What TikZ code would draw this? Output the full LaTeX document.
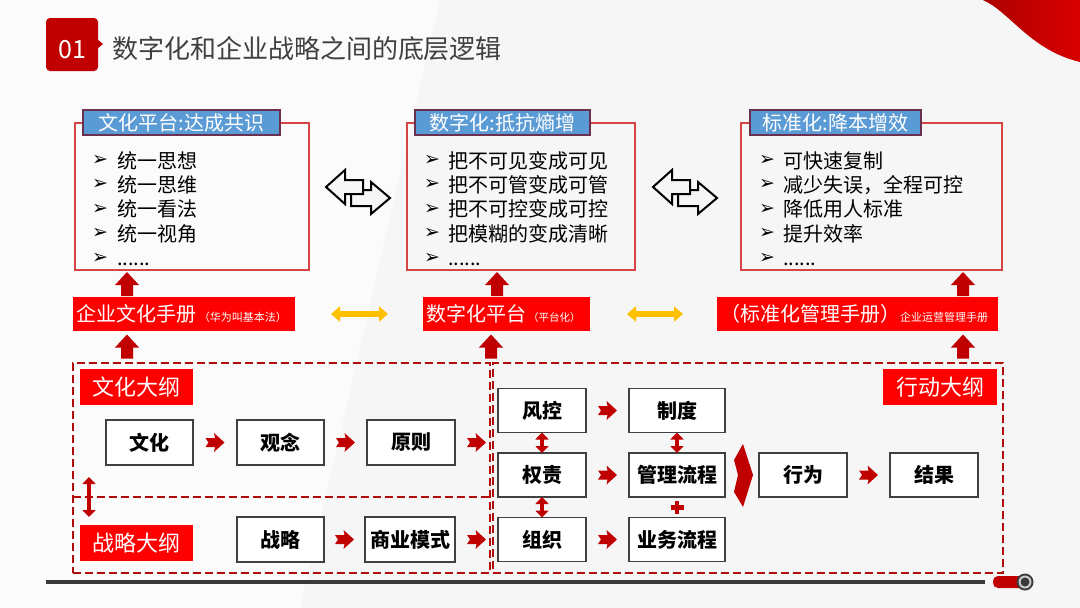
\documentclass[tikz,border=0pt]{standalone}
\usepackage{fontspec}
\setmainfont{Noto Sans CJK SC}
\newfontfamily\dv{DejaVu Sans}
\usetikzlibrary{arrows.meta,calc}
\definecolor{hdred}{HTML}{C00000}
\definecolor{lblred}{HTML}{FF0000}
\definecolor{arrred}{HTML}{C00000}
\definecolor{boxred}{HTML}{D64545}
\definecolor{tblue}{HTML}{5B9BD5}
\definecolor{tborder}{HTML}{6B3050}
\definecolor{dashred}{HTML}{B00C0C}
\definecolor{txtgray}{HTML}{404040}
\definecolor{ylw}{HTML}{FFC000}
\definecolor{bg}{HTML}{F6F6F7}
\definecolor{linegray}{HTML}{3A3A3A}
\newcommand\sixdots{......}
\begin{document}
\begin{tikzpicture}[x=1pt,y=-1pt,
  every node/.style={inner sep=0pt, outer sep=0pt},
  topbox/.style={draw=boxred, line width=1.3pt, rectangle, minimum height=147pt},
  ttl/.style={draw=tborder, line width=1.2pt, fill=tblue, text=white, font=\fontsize{20}{20}\selectfont, minimum height=25pt},
  bul/.style={anchor=west, font=\dv\fontsize{19}{19}\selectfont, text=black},
  btxt/.style={anchor=west, font=\fontsize{20}{20}\selectfont, text=black, text height=17.6pt, text depth=2.4pt},
  redlbl/.style={fill=lblred, text=white, font=\fontsize{20}{20}\selectfont, minimum height=34pt, inner xsep=3pt, align=left, text height=17.6pt, text depth=2.4pt},
  secl/.style={fill=lblred, text=white, font=\fontsize{22}{22}\selectfont, minimum height=36pt, minimum width=113pt},
  wbox/.style={draw=txtgray, line width=1.3pt, fill=white, font=\bfseries\fontsize{20}{20}\selectfont, minimum height=45pt},
  dbox/.style={draw=dashred, line width=2.8pt, dash pattern=on 8pt off 4pt},
  vdbl/.style={draw=arrred, line width=4.5pt, {Triangle[width=13pt,length=7pt]}-{Triangle[width=13pt,length=7pt]}},
  ydbl/.style={draw=ylw, line width=6pt, {Triangle[width=15pt,length=9pt]}-{Triangle[width=15pt,length=9pt]}},
  smarr/.pic={\fill[arrred] (-9.5,-4.5) -- (0,-4.5) -- (-1,-9.5) -- (9.5,0) -- (-1,9.5) -- (0,4.5) -- (-9.5,4.5) -- (-6.5,0) -- cycle;},
  uparr/.pic={\fill[arrred] (0,-12) -- (12,1) -- (6,1) -- (6,12) -- (-6,12) -- (-6,1) -- (-12,1) -- cycle;},
  chev/.pic={\fill[arrred] (0,-31) -- (10,0) -- (0,32) -- (-9,17) -- (-5,0) -- (-9,-15) -- cycle;},
  plus/.pic={\draw[arrred, line width=4.5pt] (-6.5,0) -- (6.5,0) (0,-6.5) -- (0,6.5);},
  hollow/.pic={
    \filldraw[fill=bg, draw=black, line width=2pt, line join=miter]
      (-7,-2) -- (13,-2) -- (13,-10) -- (32,6) -- (13,22) -- (13,14) -- (-7,14) -- cycle;
    \filldraw[fill=bg, draw=black, line width=2pt, line join=miter]
      (-32,-5) -- (-13,-22) -- (-13,-12) -- (5,-12) -- (5,2) -- (-13,2) -- (-13,12) -- cycle;}
]
\useasboundingbox (0,0) rectangle (1080,608);
\fill[bg] (0,0) rectangle (1080,608);
\fill[white, opacity=0.6] (0,0) -- (440,0) -- (300,608) -- (0,608) -- cycle;

% swoosh
\shade[left color=hdred!90!black, right color=red!85!black] (983,0) .. controls (1010,12) and (1030,50) .. (1080,62) -- (1080,0) -- cycle;

% header
\fill[hdred, rounded corners=4pt] (46,18) rectangle (98,71);
\fill[hdred] (97,39) -- (103,44) -- (97,49) -- cycle;
\node[text=white, font=\fontsize{25}{25}\selectfont] (num) at (72,49.5) {01};
\node[anchor=west, text=txtgray, font=\fontsize{26}{26}\selectfont] (title) at (112,49) {数字化和企业战略之间的底层逻辑};

% top boxes
\node[topbox, minimum width=234pt] (box1) at (192,196.5) {};
\node[topbox, minimum width=228pt] (box2) at (521,196.5) {};
\node[topbox, minimum width=261pt] (box3) at (871.5,196.5) {};
\node[ttl, minimum width=197pt] (t1) at (181.5,122.5) {文化平台:达成共识};
\node[ttl, minimum width=175pt] (t2) at (502.5,122.5) {数字化:抵抗熵增};
\node[ttl, minimum width=171pt] (t3) at (835.5,122.5) {标准化:降本增效};

\foreach \t [count=\i] in {统一思想,统一思维,统一看法,统一视角,\sixdots}{
  \node[bul] (a\i b) at (92,{136+24.4*\i}) {➢};
  \node[btxt] (a\i t) at (117,{136+24.4*\i}) {\t};
}
\foreach \t [count=\i] in {把不可见变成可见,把不可管变成可管,把不可控变成可控,把模糊的变成清晰,\sixdots}{
  \node[bul] (c\i b) at (424,{136+24.4*\i}) {➢};
  \node[btxt] (c\i t) at (448,{136+24.4*\i}) {\t};
}
\foreach \t [count=\i] in {可快速复制,减少失误，全程可控,降低用人标准,提升效率,\sixdots}{
  \node[bul] (d\i b) at (759,{136+24.4*\i}) {➢};
  \node[btxt] (d\i t) at (783,{136+24.4*\i}) {\t};
}

% hollow double arrows
\pic at ($(box1.east)!0.5!(box2.west)+(0,-4.5)$) {hollow};
\pic at ($(box2.east)!0.5!(box3.west)+(-3,-4.5)$) {hollow};

% middle labels
\node[redlbl, text width=216pt] (L1) at (184,314) {企业文化手册\hspace{3pt}{\fontsize{11}{11}\selectfont（华为叫基本法）}};
\node[redlbl, text width=161pt] (L2) at (506.5,314) {数字化平台\hspace{2pt}{\fontsize{10.5}{11}\selectfont（平台化）}};
\node[redlbl, text width=275pt] (L3) at (857.5,314) {（标准化管理手册）{\fontsize{11}{11}\selectfont 企业运营管理手册}};

\draw[ydbl, shorten <=36pt, shorten >=35pt] (L1.east) -- (L2.west);
\draw[ydbl, shorten <=37pt, shorten >=34pt] (L2.east) -- (L3.west);

% up arrows
\pic at (127,284) {uparr};
\pic at (497,284) {uparr};
\pic at (963,284) {uparr};
\pic at (127,346.5) {uparr};
\pic at (491,346.5) {uparr};
\pic at (963,346.5) {uparr};

% dashed areas
\node[dbox, minimum width=417pt, minimum height=210pt] (lft) at (281.5,468) {};
\node[dbox, minimum width=510pt, minimum height=210pt] (rgt) at (748,468) {};
\draw[dbox] (73,497) -- (490,497);

% section labels
\node[secl] (s1) at (136.5,387) {文化大纲};
\node[secl] (s2) at (136.5,543) {战略大纲};
\node[secl, minimum width=114pt] (s3) at (940,387) {行动大纲};

% white boxes
\node[wbox, minimum width=87pt] (wh) at (149.5,442.5) {文化};
\node[wbox, minimum width=87pt] (gn) at (280.5,442.5) {观念};
\node[wbox, minimum width=88pt] (yz) at (411,442.5) {原则};
\node[wbox, minimum width=87pt] (zl) at (280.5,539.5) {战略};
\node[wbox, minimum width=90pt] (sy) at (410,539.5) {商业模式};
\node[wbox, minimum width=88pt, minimum height=44pt] (fk) at (542,410.5) {风控};
\node[wbox, minimum width=96pt, minimum height=44pt] (zd) at (677,410.5) {制度};
\node[wbox, minimum width=88pt, minimum height=44pt] (qz) at (542,475) {权责};
\node[wbox, minimum width=96pt, minimum height=44pt] (gl) at (677,475) {管理流程};
\node[wbox, minimum width=88pt, minimum height=44pt] (zz) at (542,539.5) {组织};
\node[wbox, minimum width=96pt, minimum height=44pt] (yw) at (677,539.5) {业务流程};
\node[wbox, minimum width=88pt, minimum height=44pt] (xw) at (803,475) {行为};
\node[wbox, minimum width=88pt, minimum height=44pt] (jg) at (934,475) {结果};

% small arrows
\pic at ($(wh.east)!0.5!(gn.west)$) {smarr};
\pic at ($(gn.east)!0.5!(yz.west)$) {smarr};
\pic at ($(yz.east)!0.5!(yz.east -| fk.west)$) {smarr};
\pic at ($(zl.east)!0.5!(sy.west)$) {smarr};
\pic at ($(sy.east)!0.5!(sy.east -| zz.west)$) {smarr};
\pic at ($(fk.east)!0.5!(zd.west)$) {smarr};
\pic at ($(qz.east)!0.5!(gl.west)$) {smarr};
\pic at ($(zz.east)!0.5!(yw.west)$) {smarr};
\pic at ($(xw.east)!0.5!(jg.west)$) {smarr};

% vertical double arrows
\draw[vdbl] (fk.south) -- (qz.north);
\draw[vdbl] (qz.south) -- (zz.north);
\draw[vdbl] (zd.south) -- (gl.north);
\coordinate (va) at (89,477);
\coordinate (vb) at (89,517);
\draw[vdbl] (va) -- (vb);

% plus and chevron
\pic at ($(gl.south)!0.5!(yw.north)$) {plus};
\pic at ($(gl.east)!0.5!(xw.west)+(1,0)$) {chev};

% bottom line
\draw[linegray, line width=4pt] (46,582) -- (985,582);
\fill[hdred, rounded corners=5pt] (993,576) rectangle (1024,588);
\fill[linegray] (1025,582) circle (8.5);
\fill[white!80!black] (1025,582) circle (6.5);
\fill[linegray] (1025,582) circle (4.5);
\end{tikzpicture}
\end{document}
